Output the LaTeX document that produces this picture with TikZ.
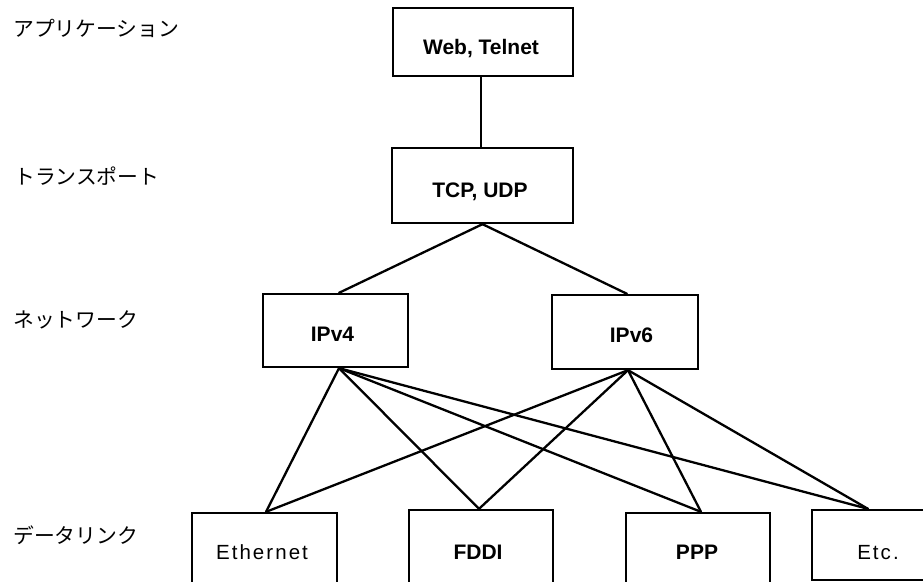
\documentclass[tikz,border=0pt]{standalone}
\usepackage{fontspec}
\setmainfont{Liberation Sans}
\newfontfamily\jp{Noto Sans CJK JP}
\begin{document}
\begin{tikzpicture}[x=1pt,y=-1pt,
  box/.style={draw=black,line width=2.3pt,rectangle,inner sep=0pt},
  lbl/.style={anchor=base,inner sep=0pt,font=\fontsize{21}{24}\selectfont\bfseries},
  lblr/.style={anchor=base,inner sep=0pt,font=\fontsize{20.5}{24}\selectfont\addfontfeature{LetterSpace=10}},
  layer/.style={anchor=base west,inner sep=0pt,font=\fontsize{20.8}{24}\selectfont\jp},
  conn/.style={line width=2.3pt,line cap=round}]
\useasboundingbox (0,0) rectangle (923,581);
% boxes
\node[box,minimum width=180pt,minimum height=68pt] (web) at (483,42) {};
\node[box,minimum width=181pt,minimum height=75pt] (tcp) at (482.5,185.5) {};
\node[box,minimum width=145pt,minimum height=73pt] (ipv4) at (335.5,330.5) {};
\node[box,minimum width=146pt,minimum height=74pt] (ipv6) at (625,332) {};
\node[box,minimum width=145pt,minimum height=77pt] (eth) at (264.5,551.5) {};
\node[box,minimum width=144pt,minimum height=80pt] (fddi) at (481,550) {};
\node[box,minimum width=144pt,minimum height=77pt] (ppp) at (698,551.5) {};
\node[box,minimum width=128pt,minimum height=70pt] (etc) at (876,545) {};
% texts
\node[lbl] (tweb) at (481,54) {Web, Telnet};
\node[lbl] (ttcp) at (480,197) {TCP, UDP};
\node[lbl] (tipv4) at (332.5,341) {IPv4};
\node[lbl] (tipv6) at (631.5,342) {IPv6};
\node[lblr] (teth) at (262,559) {Ethernet};
\node[lbl] (tfddi) at (478,559) {FDDI};
\node[lbl] (tppp) at (697,559) {PPP};
\node[lblr] (tetc) at (878,559) {Etc.};
% layer labels
\node[layer] (l1) at (13,36.6) {アプリケーション};
\node[layer] (l2) at (14,184) {トランスポート};
\node[layer] (l3) at (13,327.6) {ネットワーク};
\node[layer] (l4) at (13,543.6) {データリンク};
% connectors
\draw[conn] ([xshift=-2pt]web.south) -- ([xshift=-1.5pt]tcp.north);
\draw[conn] (tcp.south) -- ([xshift=3.5pt]ipv4.north);
\draw[conn] (tcp.south) -- ([xshift=2pt]ipv6.north);
\foreach \t/\dx in {eth/1.5,fddi/-2,ppp/3,etc/-8}{
  \draw[conn] ([xshift=3.5pt]ipv4.south) -- ([xshift=\dx pt]\t.north);
  \draw[conn] ([xshift=3pt]ipv6.south) -- ([xshift=\dx pt]\t.north);
}
\end{tikzpicture}
\end{document}
